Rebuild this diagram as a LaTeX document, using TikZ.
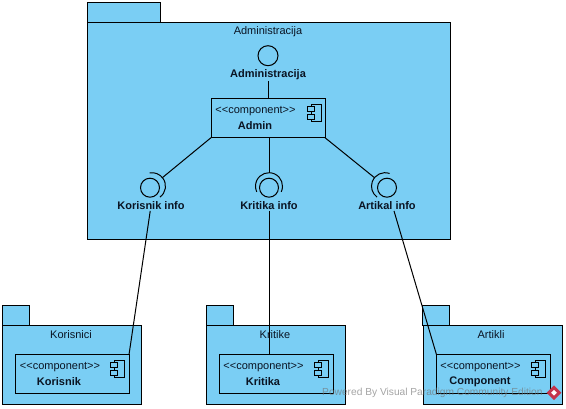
\documentclass[tikz,border=0pt]{standalone}
\usepackage{fontspec}
\setmainfont{Liberation Sans}
\usetikzlibrary{shapes.geometric}
\definecolor{pkgblue}{RGB}{122,206,244}
\definecolor{inkblue}{RGB}{10,20,35}
\definecolor{vpred}{RGB}{196,52,76}
\tikzset{
  pkg/.style={draw,fill=pkgblue,line width=1pt,minimum width=#1,inner sep=0pt,outer sep=0pt},
  comp/.style={draw,fill=pkgblue,line width=1pt,minimum width=114pt,minimum height=39pt,inner sep=0pt,outer sep=0pt},
  plaintext/.style={font=\fontsize{11}{12}\selectfont,text=inkblue,inner sep=1pt,yshift=-1pt},
  boldtext/.style={font=\fontsize{11}{12}\selectfont\bfseries,text=inkblue,inner sep=1pt,yshift=-1pt},
  iface/.style={draw,circle,line width=1pt,minimum size=#1,inner sep=0pt,outer sep=0pt},
  socket/.style={circle,minimum size=27pt,inner sep=0pt,outer sep=0pt},
  conn/.style={line width=1pt},
  marktext/.style={font=\fontsize{10.2}{12}\selectfont,text=black!55,opacity=0.65,inner sep=0pt}
}
% component glyph: #1 is the name, (#2,#3) the upper left corner of its body
\newcommand{\compicon}[3]{
  \node[draw,line width=1pt,fill=pkgblue,minimum width=10pt,minimum height=17pt,inner sep=0pt,anchor=north west] (#1body) at (#2,#3) {};
  \node[draw,line width=1pt,fill=pkgblue,minimum width=7pt,minimum height=5pt,inner sep=0pt] (#1top) at ([yshift=-5pt]#1body.north west) {};
  \node[draw,line width=1pt,fill=pkgblue,minimum width=7pt,minimum height=5pt,inner sep=0pt] (#1bot) at ([yshift=5pt]#1body.south west) {};
}
\begin{document}
\begin{tikzpicture}[x=1pt,y=-1pt]
    \useasboundingbox (0,-0.7) rectangle (566,408.3);

    % big package
    \node at (123.5, 12)  (admintab)  [pkg=73pt,minimum height=20pt] {};
    \node at (268.5, 130.5) (adminpkg) [pkg=363pt,minimum height=217pt] {};
    \node at (268, 30)    (admintitle) [plaintext] {Administracija};
    \node at (268, 55)    (adminball) [iface=20pt] {};
    \node at (268, 73)    (adminlabel) [boldtext] {Administracija};
    \node at (268, 117.5) (admin)     [comp] {};
    \node at (255.5, 109) (admintype) [plaintext] {<{}<component>{}>};
    \node at (255, 124)   (adminname) [boldtext] {Admin};
    \compicon{adminicon}{311}{103}

    % provided interfaces
    \node at (152, 185.5) (korisniksocket) [socket] {};
    \node at (150, 187)   (korisnikball) [iface=19pt] {};
    \node at (151, 204)   (korisniklabel) [boldtext] {Korisnik info};
    \node at (269, 185.5) (kritikasocket) [socket] {};
    \node at (269, 187)   (kritikaball) [iface=19pt] {};
    \node at (269, 204)   (kritikalabel) [boldtext] {Kritika info};
    \node at (385, 185.5) (artikalsocket) [socket] {};
    \node at (387, 187)   (artikalball) [iface=19pt] {};
    \node at (387, 204)   (artikallabel) [boldtext] {Artikal info};
    \draw[conn] (korisniksocket.-54) arc (54:-100:13.5);
    \draw[conn] (kritikasocket.-25) arc (25:-205:13.5);
    \draw[conn] (artikalsocket.70) arc (-70:-234:13.5);

    % lower packages
    \node at (15.5, 315)  (korisnicitab) [pkg=27pt,minimum height=20pt] {};
    \node at (71.5, 364.5) (korisnicipkg) [pkg=139pt,minimum height=79pt] {};
    \node at (71, 333)    (korisnicititle) [plaintext] {Korisnici};
    \node at (72, 373.5)  (korisnik)  [comp] {};
    \node at (60, 365)    (korisniktype) [plaintext] {<{}<component>{}>};
    \node at (59, 380)    (korisnikname) [boldtext] {Korisnik};
    \compicon{korisnikicon}{114}{359}

    \node at (219.5, 315) (kritiketab) [pkg=27pt,minimum height=20pt] {};
    \node at (275.5, 364.5) (kritikepkg) [pkg=139pt,minimum height=79pt] {};
    \node at (275, 333)   (kritiketitle) [plaintext] {Kritike};
    \node at (276, 373.5) (kritika)   [comp] {};
    \node at (263.5, 365) (kritikatype) [plaintext] {<{}<component>{}>};
    \node at (263, 380)   (kritikaname) [boldtext] {Kritika};
    \compicon{kritikaicon}{318}{359}

    \node at (436, 315)   (artiklitab) [pkg=27pt,minimum height=20pt] {};
    \node at (492.5, 364.5) (artiklipkg) [pkg=139pt,minimum height=79pt] {};
    \node at (491, 333)   (artiklititle) [plaintext] {Artikli};
    \node at (493.5, 373.5) (artikal) [comp] {};
    \node at (480.5, 365) (artikaltype) [plaintext] {<{}<component>{}>};
    \node at (480, 380)   (artikalname) [boldtext] {Component};
    \compicon{artikalicon}{535}{359}

    % connectors
    \draw[conn] (adminlabel) -- (admin.north);
    \draw[conn] (admin.south west) -- (korisniksocket);
    \draw[conn] (kritikasocket |- admin.south) -- (kritikasocket);
    \draw[conn] (admin.south east) -- (artikalsocket);
    \draw[conn] (korisniklabel) -- (korisnik.north east);
    \draw[conn] (kritikalabel) -- (kritikalabel |- kritika.north);
    \draw[conn] ([xshift=7pt]artikallabel.south) -- (artikal.north west);

    % watermark
    \node at (322, 392)   (vpmark) [marktext,anchor=west] {Powered By  Visual Paradigm Community Edition};
    \node at (554, 392)   (vplogo) [diamond,fill=vpred,minimum size=15pt,inner sep=0pt] {};
    \node at (554, 392)   (vplogoin) [diamond,fill=white,minimum size=6pt,inner sep=0pt] {};
\end{tikzpicture}
\end{document}
